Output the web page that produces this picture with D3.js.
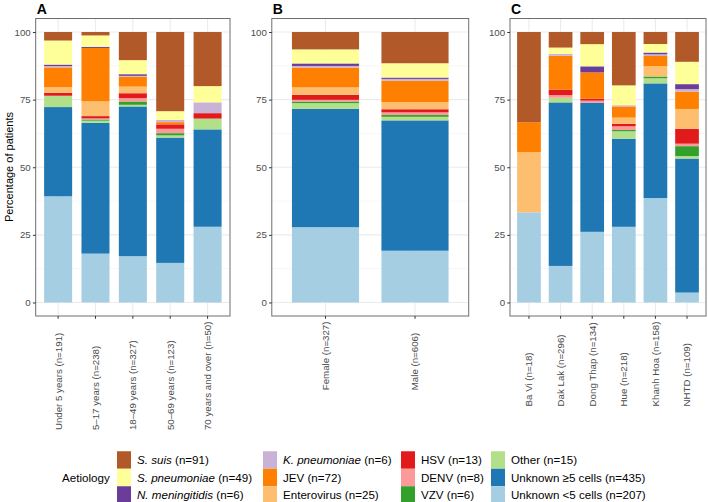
<!DOCTYPE html>
<html>
<head>
<meta charset="utf-8">
<script src="https://cdn.jsdelivr.net/npm/d3@7"></script>
<style>
  html, body { margin: 0; padding: 0; background: #fff; }
  svg { display: block; font-family: "Liberation Sans", Arial, Helvetica, sans-serif; }
</style>
</head>
<body>
<svg id="chart" width="708" height="502"></svg>
<script>
// ---------- data ----------
// stack order, bottom to top
const aetiologyKeys = ["Unknown <5 cells", "Unknown ≥5 cells", "Other", "VZV", "DENV", "HSV",
  "Enterovirus", "JEV", "K. pneumoniae", "N. meningitidis", "S. pneumoniae", "S. suis"];
const aetiologyColors = ["#A6CEE3", "#1F78B4", "#B2DF8A", "#33A02C", "#FB9A99", "#E31A1C",
  "#FDBF6F", "#FF7F00", "#CAB2D6", "#6A3D9A", "#FFFF99", "#B15928"];
const italicKeys = ["K. pneumoniae", "N. meningitidis", "S. pneumoniae", "S. suis"];
const legendCounts = { "S. suis": 91, "S. pneumoniae": 49, "N. meningitidis": 6, "K. pneumoniae": 6,
  "JEV": 72, "Enterovirus": 25, "HSV": 13, "DENV": 8, "VZV": 6, "Other": 15,
  "Unknown ≥5 cells": 435, "Unknown <5 cells": 207 };

// Panel A: age groups (counts in aetiologyKeys order)
const ageGroups = ["Under 5 years (n=191)", "5–17 years (n=238)", "18–49 years (n=327)",
  "50–69 years (n=123)", "70 years and over (n=50)"];
const ageUnder5  = [75, 63, 8, 0, 0, 2, 4, 14, 1, 1, 17, 6];
const age5to17   = [43, 115, 2, 1, 1, 2, 13, 47, 0, 1, 10, 3];
const age18to49  = [56, 181, 2, 4, 4, 6, 8, 12, 1, 2, 17, 34];
const age50to69  = [18, 57, 1, 1, 2, 2, 0, 1, 1, 0, 4, 36];
const age70plus  = [14, 18, 2, 0, 0, 1, 0, 0, 2, 0, 3, 10];

// Panel B: sex
const sexGroups = ["Female (n=327)", "Male (n=606)"];
const female = [91, 143, 7, 2, 2, 6, 9, 24, 2, 3, 17, 21];
const male   = [116, 292, 8, 4, 6, 7, 16, 48, 4, 3, 32, 70];

// Panel C: site
const siteGroups = ["Ba Vi (n=18)", "Dak Lak (n=296)", "Dong Thap (n=134)", "Hue (n=218)",
  "Khanh Hoa (n=158)", "NHTD (n=109)"];
const baVi     = [6, 0, 0, 0, 0, 0, 4, 2, 0, 0, 0, 6];
const dakLak   = [40, 179, 5, 0, 3, 6, 0, 37, 2, 0, 7, 17];
const dongThap = [35, 64, 0, 0, 1, 1, 0, 13, 0, 3, 11, 6];
const hue      = [61, 71, 6, 1, 3, 2, 5, 9, 1, 0, 16, 43];
const khanhHoa = [61, 67, 3, 1, 0, 0, 6, 6, 1, 1, 5, 7];
const nhtd     = [4, 54, 1, 4, 1, 6, 8, 7, 1, 2, 9, 12];

const yTicks = [0, 25, 50, 75, 100];
const yMinor = [12.5, 37.5, 62.5, 87.5];

// ---------- drawing ----------
const svg = d3.select("#chart");
const color = d3.scaleOrdinal().domain(aetiologyKeys).range(aetiologyColors);
const y = d3.scaleLinear().domain([-5, 105]).range([316, 18.5]);

const panels = [
  { tag: "A", groups: ageGroups, values: [ageUnder5, age5to17, age18to49, age50to69, age70plus], x0: 35.7, x1: 230 },
  { tag: "B", groups: sexGroups, values: [female, male], x0: 271.8, x1: 468.7 },
  { tag: "C", groups: siteGroups, values: [baVi, dakLak, dongThap, hue, khanhHoa, nhtd], x0: 510, x1: 706 }
];

const textCol = "#4D4D4D";
const axisFont = 9.7;

panels.forEach(p => {
  const g = svg.append("g");
  const x = d3.scaleBand().domain(p.groups).range([p.x0, p.x1]).paddingInner(0.25).paddingOuter(0.225);
  // grid
  g.selectAll(".minor").data(yMinor).join("line")
    .attr("x1", p.x0).attr("x2", p.x1).attr("y1", d => y(d)).attr("y2", d => y(d))
    .attr("stroke", "#F2F2F2").attr("stroke-width", 0.6);
  g.selectAll(".major").data(yTicks).join("line")
    .attr("x1", p.x0).attr("x2", p.x1).attr("y1", d => y(d)).attr("y2", d => y(d))
    .attr("stroke", "#EBEBEB").attr("stroke-width", 1.1);
  g.selectAll(".vmajor").data(p.groups).join("line")
    .attr("x1", d => x(d) + x.bandwidth() / 2).attr("x2", d => x(d) + x.bandwidth() / 2)
    .attr("y1", y.range()[0]).attr("y2", y.range()[1])
    .attr("stroke", "#EBEBEB").attr("stroke-width", 1.1);

  // stacked percentages
  const rows = p.groups.map((grp, i) => {
    const vals = p.values[i];
    const tot = d3.sum(vals);
    const r = { group: grp };
    aetiologyKeys.forEach((k, j) => r[k] = vals[j] / tot * 100);
    return r;
  });
  const series = d3.stack().keys(aetiologyKeys)(rows);
  g.selectAll(".layer").data(series).join("g")
    .attr("fill", d => color(d.key))
    .selectAll("rect").data(d => d.filter(e => e[1] - e[0] > 0)).join("rect")
    .attr("x", d => x(d.data.group))
    .attr("width", x.bandwidth())
    .attr("y", d => y(d[1]))
    .attr("height", d => y(d[0]) - y(d[1]));

  // border
  g.append("rect").attr("x", p.x0).attr("y", y.range()[1])
    .attr("width", p.x1 - p.x0).attr("height", y.range()[0] - y.range()[1])
    .attr("fill", "none").attr("stroke", "#6e6e6e").attr("stroke-width", 1);

  // y axis
  const ya = g.append("g").attr("transform", `translate(${p.x0},0)`)
    .call(d3.axisLeft(y).tickValues(yTicks).tickSize(2.75).tickPadding(2.2));
  ya.select(".domain").remove();
  ya.selectAll("line").attr("stroke", "#333333");
  ya.selectAll("text").attr("fill", textCol).style("font-size", axisFont + "px").style("font-family", "inherit");

  // x axis
  const xa = g.append("g").attr("transform", `translate(0,${y.range()[0]})`)
    .call(d3.axisBottom(x).tickSize(2.75).tickSizeOuter(0));
  xa.select(".domain").remove();
  xa.selectAll("line").attr("stroke", "#333333");
  const labels = xa.selectAll("text")
    .attr("fill", textCol).style("font-size", axisFont + "px").style("font-family", "inherit");
  let maxLen = 0;
  labels.each(function () { maxLen = Math.max(maxLen, this.getComputedTextLength()); });
  const top = 2.75 + 2.8;
  labels.attr("text-anchor", "start").attr("dy", null)
    .attr("transform", `translate(0,${top + maxLen}) rotate(-90)`)
    .attr("x", 0).attr("y", 0).attr("dy", "0.35em");

  // tag
  svg.append("text").attr("x", p.x0 + 1).attr("y", 14).text(p.tag)
    .style("font-size", "14px").style("font-weight", "bold").attr("fill", "#000");
});

// y axis title
svg.append("text").attr("transform", "translate(13,167) rotate(-90)")
  .attr("text-anchor", "middle").style("font-size", "11px").attr("fill", "#000")
  .text("Percentage of patients");

// legend
const legendOrder = aetiologyKeys.slice().reverse();
const colX = [117, 263, 401, 491];
const rowY = [460, 477.5, 495];
const keyW = 14, keyH = 17.5;
const legendFont = 11.6;
svg.append("text").attr("x", 62).attr("y", 477.5).attr("dy", "0.35em")
  .style("font-size", legendFont + "px").attr("fill", "#000").text("Aetiology");
const lg = svg.append("g");
legendOrder.forEach((k, i) => {
  const c = Math.floor(i / 3), r = i % 3;
  lg.append("rect").attr("x", colX[c]).attr("y", rowY[r] - keyH / 2)
    .attr("width", keyW).attr("height", keyH).attr("fill", color(k));
  const t = lg.append("text").attr("x", colX[c] + keyW + 6).attr("y", rowY[r]).attr("dy", "0.35em")
    .style("font-size", legendFont + "px").attr("fill", "#000");
  if (italicKeys.includes(k)) {
    t.append("tspan").style("font-style", "italic").text(k);
    t.append("tspan").text(` (n=${legendCounts[k]})`);
  } else {
    t.text(`${k} (n=${legendCounts[k]})`);
  }
});
</script>
</body>
</html>
